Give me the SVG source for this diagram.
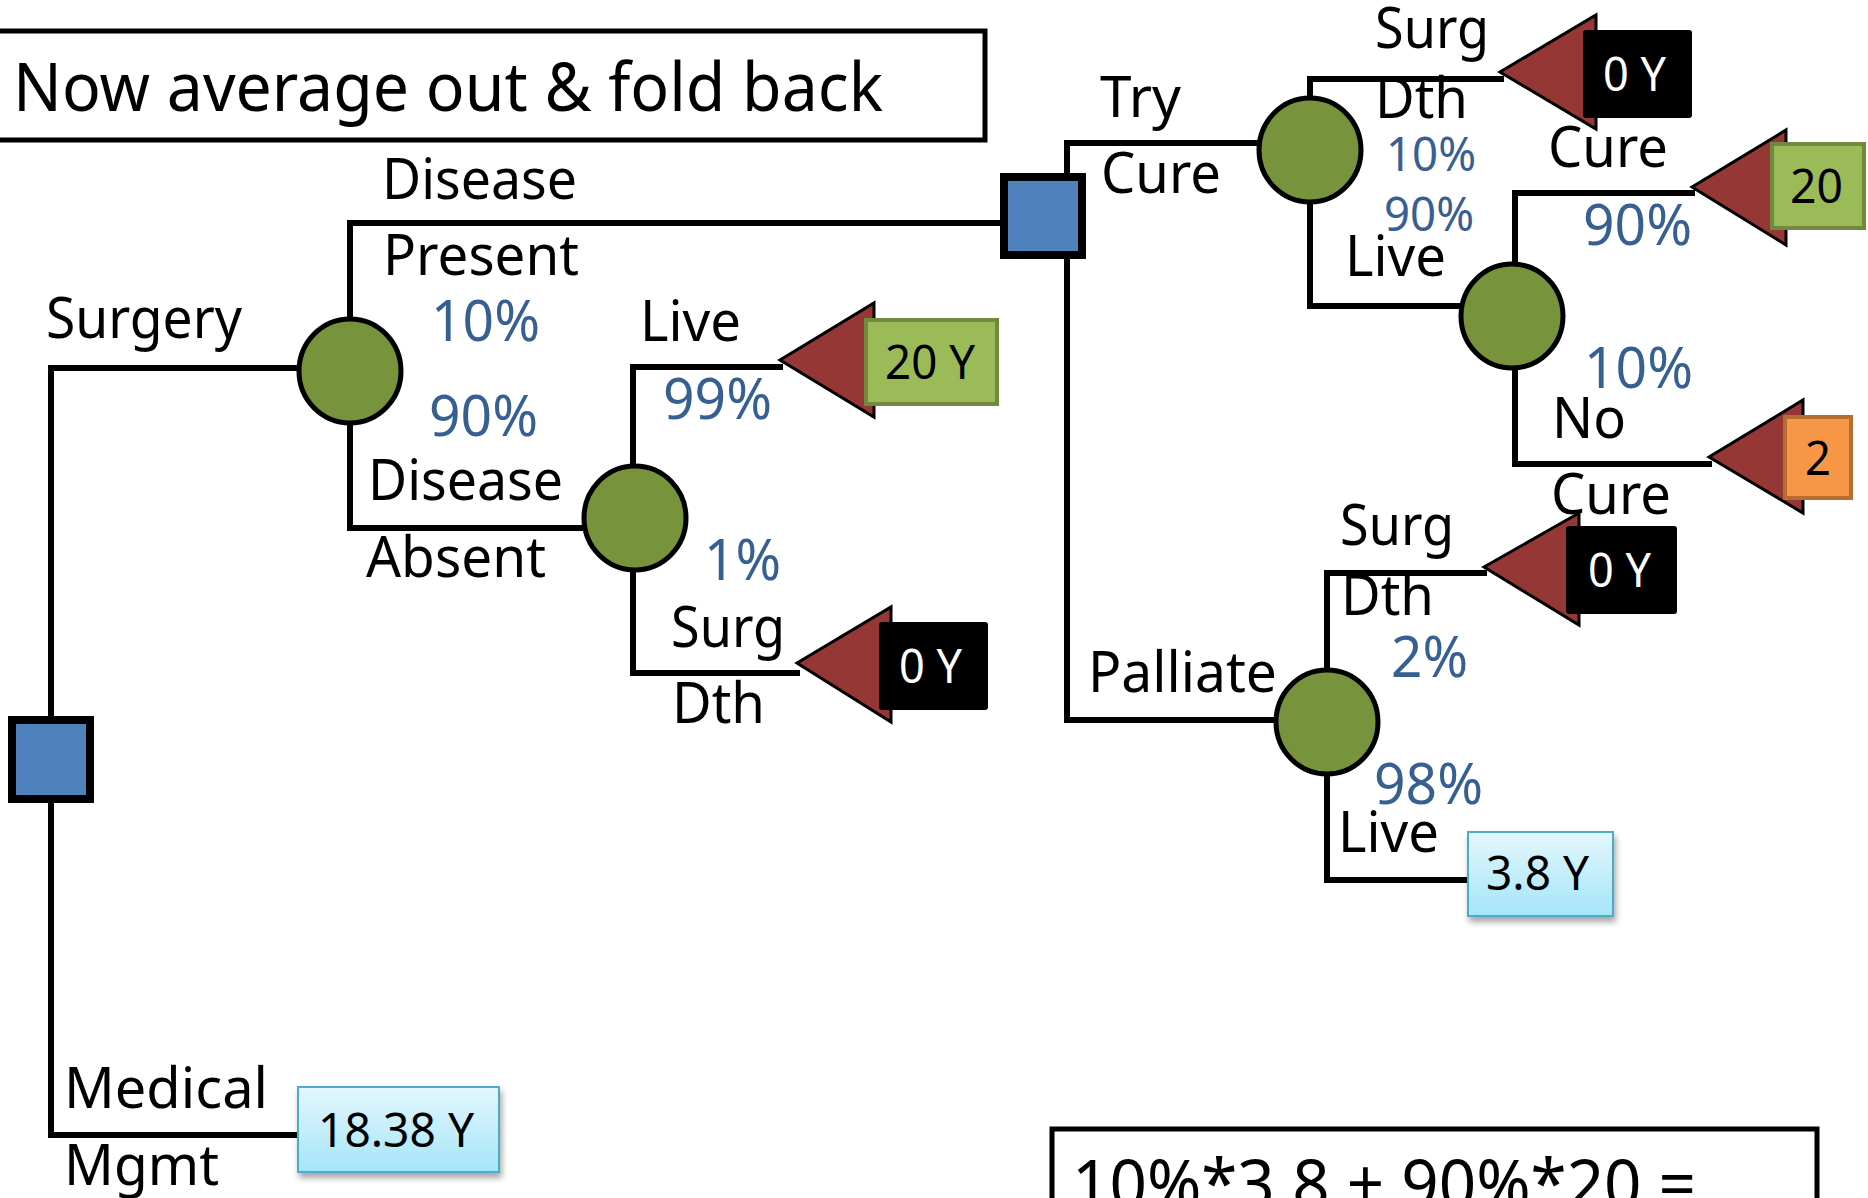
<svg xmlns="http://www.w3.org/2000/svg" width="1868" height="1198" viewBox="0 0 1868 1198">
<style>
text{font-family:"Noto Sans","Open Sans","Liberation Sans",sans-serif;fill:#000}
.lb{font-size:57px}
.sm{font-size:47px}
.bg{font-size:67px}
.pc{fill:#376092}
.wt{fill:#fff}
.cn{fill:none;stroke:#000;stroke-width:6;stroke-linecap:square;stroke-linejoin:miter}
.chance{fill:#77933C;stroke:#000;stroke-width:5}
.dec{fill:#4F81BD;stroke:#000;stroke-width:8}
.tri{fill:#953735;stroke:#000;stroke-width:3;stroke-linejoin:miter}
.blk{fill:#000}
.grn{fill:#9BBB59;stroke:#71893F;stroke-width:4}
.org{fill:#F79646;stroke:#B66D31;stroke-width:4}
.lbl{fill:url(#lbg);stroke:#4BACC6;stroke-width:2;filter:url(#sh)}
.frame{fill:#fff;stroke:#000;stroke-width:5}
</style>
<defs>
<linearGradient id="lbg" x1="0" y1="0" x2="0" y2="1">
<stop offset="0" stop-color="#E4F7FD"/>
<stop offset="1" stop-color="#A4E5F8"/>
</linearGradient>
<filter id="sh" x="-10%" y="-10%" width="130%" height="140%">
<feDropShadow dx="2" dy="5" stdDeviation="3" flood-color="#000" flood-opacity="0.35"/>
</filter>
</defs>
<rect width="1868" height="1198" fill="#fff"/>

<g id="title">
<rect class="frame" x="-10" y="31" width="995" height="109"/>
<text class="bg" x="13" y="111" textLength="870" lengthAdjust="spacingAndGlyphs">Now average out &amp; fold back</text>
</g>

<g id="connectors">
<path class="cn" d="M51,368 V1135"/>
<path class="cn" d="M51,368 H298"/>
<path class="cn" d="M51,1135 H298"/>
<path class="cn" d="M350,318 V223 H1000"/>
<path class="cn" d="M350,424 V528 H583"/>
<path class="cn" d="M633,465 V367 H780"/>
<path class="cn" d="M633,571 V673 H797"/>
<path class="cn" d="M1067,143 V720"/>
<path class="cn" d="M1067,143 H1257"/>
<path class="cn" d="M1067,720 H1274"/>
<path class="cn" d="M1310,97 V79 H1501"/>
<path class="cn" d="M1310,203 V306 H1460"/>
<path class="cn" d="M1515,263 V193 H1692"/>
<path class="cn" d="M1515,369 V464 H1709"/>
<path class="cn" d="M1327,669 V573 H1484"/>
<path class="cn" d="M1327,775 V880 H1468"/>
</g>

<g id="root-decision">
<rect class="dec" x="12" y="720" width="78" height="79"/>
</g>
<g id="surgery-chance">
<ellipse class="chance" cx="350" cy="371" rx="51" ry="52"/>
</g>
<g id="absent-chance">
<ellipse class="chance" cx="635" cy="518" rx="51" ry="52"/>
</g>
<g id="present-decision">
<rect class="dec" x="1004" y="177" width="78" height="78"/>
</g>
<g id="trycure-chance">
<ellipse class="chance" cx="1310" cy="150" rx="51" ry="52"/>
</g>
<g id="live-chance">
<ellipse class="chance" cx="1512" cy="316" rx="51" ry="52"/>
</g>
<g id="palliate-chance">
<ellipse class="chance" cx="1327" cy="722" rx="51" ry="52"/>
</g>

<g id="term-trycure-dth">
<polygon class="tri" points="1500,72 1596,15 1596,129"/>
<rect class="blk" x="1583" y="30" width="109" height="88" rx="3"/>
<text class="sm wt" x="1603" y="91" textLength="63" lengthAdjust="spacingAndGlyphs">0 Y</text>
</g>
<g id="term-cure">
<polygon class="tri" points="1692,187 1786,130 1786,245"/>
<rect class="grn" x="1772" y="144" width="92" height="84"/>
<text class="sm" x="1790" y="203" textLength="53" lengthAdjust="spacingAndGlyphs">20</text>
</g>
<g id="term-nocure">
<polygon class="tri" points="1709,457 1803,400 1803,513"/>
<rect class="org" x="1785" y="417" width="66" height="81"/>
<text class="sm" x="1805" y="475" textLength="26" lengthAdjust="spacingAndGlyphs">2</text>
</g>
<g id="term-palliate-dth">
<polygon class="tri" points="1484,567 1579,513 1579,625"/>
<rect class="blk" x="1566" y="526" width="111" height="88" rx="3"/>
<text class="sm wt" x="1588" y="587" textLength="63" lengthAdjust="spacingAndGlyphs">0 Y</text>
</g>
<g id="term-palliate-live">
<rect class="lbl" x="1468" y="832" width="145" height="84"/>
<text class="sm" x="1486" y="890" textLength="103" lengthAdjust="spacingAndGlyphs">3.8 Y</text>
</g>
<g id="term-absent-live">
<polygon class="tri" points="780,360 874,303 874,417"/>
<rect class="grn" x="866" y="320" width="131" height="84"/>
<text class="sm" x="885" y="379" textLength="90" lengthAdjust="spacingAndGlyphs">20 Y</text>
</g>
<g id="term-absent-dth">
<polygon class="tri" points="797,663 891,607 891,722"/>
<rect class="blk" x="879" y="622" width="109" height="88" rx="3"/>
<text class="sm wt" x="899" y="683" textLength="63" lengthAdjust="spacingAndGlyphs">0 Y</text>
</g>
<g id="term-medical">
<rect class="lbl" x="298" y="1087" width="201" height="85"/>
<text class="sm" x="318" y="1147" textLength="156" lengthAdjust="spacingAndGlyphs">18.38 Y</text>
</g>

<g id="labels">
<text class="lb" x="382" y="199" textLength="195" lengthAdjust="spacingAndGlyphs">Disease</text>
<text class="lb" x="383" y="275" textLength="196" lengthAdjust="spacingAndGlyphs">Present</text>
<text class="lb" x="46" y="338" textLength="196" lengthAdjust="spacingAndGlyphs">Surgery</text>
<text class="lb pc" x="431" y="341" textLength="109" lengthAdjust="spacingAndGlyphs">10%</text>
<text class="lb pc" x="429" y="436" textLength="109" lengthAdjust="spacingAndGlyphs">90%</text>
<text class="lb" x="368" y="500" textLength="195" lengthAdjust="spacingAndGlyphs">Disease</text>
<text class="lb" x="366" y="577" textLength="180" lengthAdjust="spacingAndGlyphs">Absent</text>
<text class="lb" x="640" y="341" textLength="101" lengthAdjust="spacingAndGlyphs">Live</text>
<text class="lb pc" x="663" y="419" textLength="109" lengthAdjust="spacingAndGlyphs">99%</text>
<text class="lb pc" x="704" y="580" textLength="77" lengthAdjust="spacingAndGlyphs">1%</text>
<text class="lb" x="671" y="647" textLength="114" lengthAdjust="spacingAndGlyphs">Surg</text>
<text class="lb" x="672" y="723" textLength="93" lengthAdjust="spacingAndGlyphs">Dth</text>
<text class="lb" x="64" y="1108" textLength="204" lengthAdjust="spacingAndGlyphs">Medical</text>
<text class="lb" x="64" y="1185" textLength="155" lengthAdjust="spacingAndGlyphs">Mgmt</text>
<text class="lb" x="1100" y="117" textLength="81" lengthAdjust="spacingAndGlyphs">Try</text>
<text class="lb" x="1101" y="193" textLength="120" lengthAdjust="spacingAndGlyphs">Cure</text>
<text class="lb" x="1375" y="48" textLength="114" lengthAdjust="spacingAndGlyphs">Surg</text>
<text class="lb" x="1375" y="118" textLength="93" lengthAdjust="spacingAndGlyphs">Dth</text>
<text class="sm pc" x="1386" y="171" textLength="90" lengthAdjust="spacingAndGlyphs">10%</text>
<text class="sm pc" x="1384" y="231" textLength="90" lengthAdjust="spacingAndGlyphs">90%</text>
<text class="lb" x="1345" y="276" textLength="101" lengthAdjust="spacingAndGlyphs">Live</text>
<text class="lb" x="1548" y="167" textLength="120" lengthAdjust="spacingAndGlyphs">Cure</text>
<text class="lb pc" x="1583" y="245" textLength="109" lengthAdjust="spacingAndGlyphs">90%</text>
<text class="lb pc" x="1584" y="388" textLength="109" lengthAdjust="spacingAndGlyphs">10%</text>
<text class="lb" x="1552" y="438" textLength="74" lengthAdjust="spacingAndGlyphs">No</text>
<text class="lb" x="1551" y="514" textLength="120" lengthAdjust="spacingAndGlyphs">Cure</text>
<text class="lb" x="1340" y="545" textLength="114" lengthAdjust="spacingAndGlyphs">Surg</text>
<text class="lb" x="1341" y="615" textLength="93" lengthAdjust="spacingAndGlyphs">Dth</text>
<text class="lb pc" x="1391" y="677" textLength="77" lengthAdjust="spacingAndGlyphs">2%</text>
<text class="lb" x="1088" y="692" textLength="189" lengthAdjust="spacingAndGlyphs">Palliate</text>
<text class="lb pc" x="1374" y="804" textLength="109" lengthAdjust="spacingAndGlyphs">98%</text>
<text class="lb" x="1338" y="852" textLength="101" lengthAdjust="spacingAndGlyphs">Live</text>
</g>

<g id="formula">
<rect class="frame" x="1052" y="1129" width="765" height="100"/>
<text class="bg" x="1072" y="1208" textLength="624" lengthAdjust="spacingAndGlyphs">10%*3.8 + 90%*20 =</text>
</g>
</svg>
